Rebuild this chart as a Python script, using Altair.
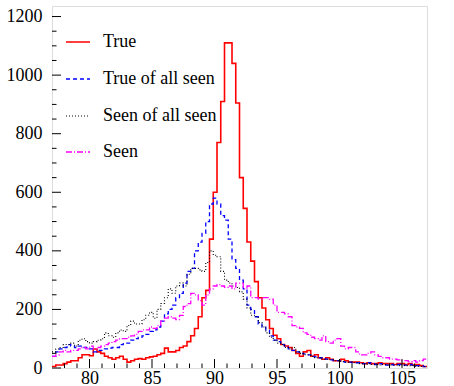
import altair as alt
import pandas as pd

# Histogram: 100 bins of width 0.3 from 77 to 107
x_start = 77.0
bin_width = 0.3

true_vals = [5, 10, 10, 15, 20, 25, 25, 35, 45, 45, 42, 65, 55, 50, 40, 35, 30, 35, 40, 30,
             20, 25, 30, 32, 30, 35, 38, 40, 45, 50, 68, 55, 55, 60, 70, 75, 90, 110, 135, 175,
             240, 265, 440, 600, 770, 910, 1110, 1110, 1040, 905, 650, 545, 430, 365, 295, 240, 205, 165, 135, 112,
             100, 80, 75, 70, 60, 50, 40, 55, 60, 40, 45, 35, 30, 35, 30, 25, 25, 30, 25, 20,
             20, 20, 18, 15, 18, 15, 15, 18, 15, 15, 15, 12, 15, 15, 12, 15, 10, 12, 8, 5]

true_of_seen = [40, 55, 65, 70, 80, 75, 70, 75, 70, 70, 65, 55, 60, 60, 65, 68, 70, 70, 80, 85,
                85, 95, 100, 105, 110, 115, 125, 130, 140, 160, 185, 200, 215, 240, 255, 290, 330, 340, 400, 430,
                460, 500, 560, 580, 560, 520, 505, 440, 370, 340, 300, 270, 215, 200, 175, 150, 140, 130, 110, 95,
                90, 80, 75, 65, 60, 55, 50, 48, 45, 40, 38, 35, 32, 30, 28, 25, 25, 22, 20, 20,
                18, 18, 15, 15, 18, 15, 12, 15, 12, 10, 12, 10, 12, 10, 10, 12, 10, 8, 8, 5]

seen_of_seen = [55, 65, 70, 80, 80, 85, 75, 95, 100, 90, 85, 90, 95, 100, 120, 110, 105, 120, 130, 125,
                145, 160, 150, 150, 165, 180, 190, 170, 200, 220, 240, 270, 255, 280, 290, 280, 320, 340, 340, 335,
                330, 360, 400, 385, 380, 330, 300, 290, 280, 275, 260, 235, 205, 180, 175, 155, 140, 120, 105, 95,
                85, 80, 70, 65, 70, 55, 50, 45, 45, 40, 35, 35, 30, 30, 28, 25, 25, 22, 20, 20,
                18, 18, 15, 12, 15, 12, 12, 10, 12, 10, 10, 10, 8, 10, 8, 8, 8, 5, 5, 5]

seen_vals = [40, 45, 55, 60, 55, 60, 60, 65, 70, 65, 75, 65, 70, 75, 80, 85, 90, 95, 100, 100,
             105, 110, 115, 125, 130, 130, 140, 135, 145, 160, 170, 175, 170, 165, 180, 210, 220, 255, 250, 230,
             215, 250, 270, 280, 285, 280, 275, 280, 270, 290, 290, 270, 280, 240, 240, 235, 240, 240, 235, 215,
             190, 190, 185, 175, 145, 140, 135, 120, 115, 105, 100, 95, 110, 90, 85, 95, 100, 75, 65, 70,
             70, 55, 45, 45, 50, 55, 45, 40, 35, 35, 30, 30, 28, 25, 25, 22, 25, 20, 25, 30]

series_names = ["True", "True of all seen", "Seen of all seen", "Seen"]
series_values = [true_vals, true_of_seen, seen_of_seen, seen_vals]
series_colors = ["#ff0000", "#0000ff", "#000000", "#ff00ff"]
series_dashes = [[1, 0], [4, 3], [1, 2], [6, 2, 1, 2]]
series_widths = [1.6, 1.3, 1.1, 1.3]

x_ticks_major = [80, 85, 90, 95, 100, 105]
x_ticks_minor = [v for v in range(78, 107) if v % 5 != 0]
y_ticks_major = [0, 200, 400, 600, 800, 1000, 1200]
y_ticks_minor = [v for v in range(50, 1235, 50) if v % 200 != 0]

rows = []
for name, vals in zip(series_names, series_values):
    for i, v in enumerate(vals):
        rows.append({"series": name, "x": x_start + i * bin_width, "y": v})
    rows.append({"series": name, "x": x_start + len(vals) * bin_width, "y": vals[-1]})
df = pd.DataFrame(rows)

W, H = 375, 362
xscale = alt.Scale(domain=[77, 107], nice=False, zero=False)
yscale = alt.Scale(domain=[0, 1236], nice=False)
FONT = "Times New Roman, Liberation Serif, serif"

layers = []
for name, col, dash, sw in zip(series_names, series_colors, series_dashes, series_widths):
    layers.append(
        alt.Chart(df[df.series == name]).mark_line(
            interpolate="step-after", color=col, strokeDash=dash, strokeWidth=sw, clip=True
        ).encode(
            x=alt.X("x:Q", scale=xscale,
                    axis=alt.Axis(values=x_ticks_major, ticks=False, domain=False, grid=False,
                                  labelFont=FONT, labelFontSize=18, labelColor="black",
                                  labelPadding=1, title=None, format="d")),
            y=alt.Y("y:Q", scale=yscale,
                    axis=alt.Axis(values=y_ticks_major, ticks=False, domain=False, grid=False,
                                  labelFont=FONT, labelFontSize=18, labelColor="black",
                                  labelPadding=10, title=None, format="d")),
        )
    )

# inward ticks
ytm = alt.Chart(pd.DataFrame({"v": y_ticks_major})).mark_rule(color="black", strokeWidth=1).encode(
    y=alt.Y("v:Q", scale=yscale), x=alt.value(0), x2=alt.value(9))
ytn = alt.Chart(pd.DataFrame({"v": y_ticks_minor})).mark_rule(color="black", strokeWidth=1).encode(
    y=alt.Y("v:Q", scale=yscale), x=alt.value(0), x2=alt.value(4.5))
xtm = alt.Chart(pd.DataFrame({"v": x_ticks_major})).mark_rule(color="black", strokeWidth=1).encode(
    x=alt.X("v:Q", scale=xscale), y=alt.value(H), y2=alt.value(H - 9))
xtn = alt.Chart(pd.DataFrame({"v": x_ticks_minor})).mark_rule(color="black", strokeWidth=1).encode(
    x=alt.X("v:Q", scale=xscale), y=alt.value(H), y2=alt.value(H - 4.5))
layers += [ytm, ytn, xtm, xtn]

# legend
leg_y = [36, 73, 110, 146]
for name, col, dash, sw, ly in zip(series_names, series_colors, series_dashes, series_widths, leg_y):
    ld = pd.DataFrame({"label": [name]})
    layers.append(alt.Chart(ld).mark_rule(color=col, strokeDash=dash, strokeWidth=sw).encode(
        x=alt.value(14), x2=alt.value(38), y=alt.value(ly)))
    layers.append(alt.Chart(ld).mark_text(align="left", baseline="middle", font=FONT, fontSize=18,
                                          color="black").encode(
        text="label:N", x=alt.value(51), y=alt.value(ly)))

chart = alt.layer(*layers).properties(
    width=W, height=H,
    autosize=alt.AutoSizeParams(type="none"),
    padding={"left": 52, "top": 6, "right": 27, "bottom": 18},
).configure_view(stroke="black", strokeWidth=1.2).configure(background="white")

chart.save("out.html", embed_options={"renderer": "svg", "actions": False})
